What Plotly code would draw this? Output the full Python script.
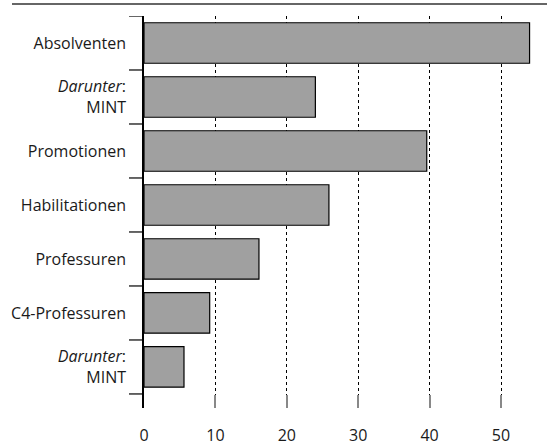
import plotly.graph_objects as go

categories = ["Absolventen", "<i>Darunter</i>:<br>MINT", "Promotionen", "Habilitationen",
              "Professuren", "C4-Professuren", "<i>Darunter</i>:<br>MINT"]
values = [54.0, 24.0, 39.6, 25.9, 16.1, 9.2, 5.6]
x_ticks = [0, 10, 20, 30, 40, 50]

positions = list(range(len(categories)))
boundaries = [p - 0.5 for p in positions] + [positions[-1] + 0.5]

FONT = "Open Sans"
y_range = [positions[-1] + 0.5 + 0.26, -0.5]
PLOT_W = 547 - 144 - 10

fig = go.Figure()
fig.add_trace(go.Bar(
    x=values, y=positions, orientation="h",
    marker=dict(color="#a0a0a0", line=dict(color="black", width=1.2)),
    width=0.75, showlegend=False, hoverinfo="x",
))

# category boundary ticks on the left of the y axis
shapes = [dict(type="line", xref="paper", yref="y",
               x0=-15 / PLOT_W, x1=0, y0=b, y1=b,
               line=dict(color="black", width=1.2))
          for b in boundaries]
# grey rule across the top
shapes.append(dict(type="line", xref="paper", yref="paper",
                   x0=-132 / PLOT_W, x1=1.03, y0=1 + 12 / 392, y1=1 + 12 / 392,
                   line=dict(color="#666", width=1.8)))

fig.update_layout(
    width=547, height=445,
    margin=dict(l=144, r=10, t=16, b=37),
    paper_bgcolor="white", plot_bgcolor="white",
    font=dict(family=FONT, size=16, color="#1a1a1a"),
    xaxis=dict(
        range=[0, 55.04],
        tickvals=x_ticks,
        ticks="inside", ticklen=13, tickwidth=1.5, tickcolor="#888",
        showline=False, zeroline=False,
        showgrid=True, gridcolor="black", gridwidth=1, griddash="3px,3px",
        ticklabelstandoff=16, automargin=False,
        tickfont=dict(family=FONT, size=16, color="#1a1a1a"),
    ),
    yaxis=dict(
        range=y_range,
        tickvals=positions, ticktext=categories,
        ticks="outside", ticklen=13, tickcolor="rgba(0,0,0,0)",
        showline=True, linecolor="black", linewidth=1.6,
        showgrid=False, zeroline=False, automargin=False,
        tickfont=dict(family=FONT, size=16, color="#1a1a1a"),
    ),
    shapes=shapes,
)

fig.write_html("out.html", config={"displayModeBar": False},
               post_script="document.body.style.margin='0';")
